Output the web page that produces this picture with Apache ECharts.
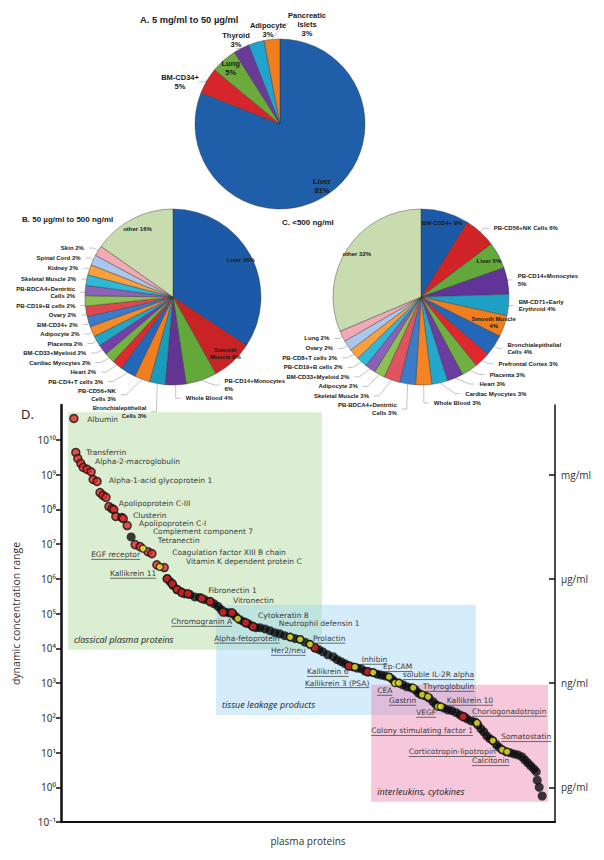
<!DOCTYPE html>
<html><head><meta charset="utf-8">
<script src="https://cdn.jsdelivr.net/npm/echarts@6/dist/echarts.min.js"></script>
<style>html,body{margin:0;padding:0;background:#fff}#c{width:604px;height:860px}</style>
</head><body><div id="c"></div>
<script>
// ---------- Panel A: 5 mg/ml to 50 µg/ml ----------
const pieANames  = ['Liver','BM-CD34+','Lung','Thyroid','Adipocyte','Pancreatic\nIslets'];
const pieAValues = [81,5,5,3,3,3];
const pieAColors = ['#1f5ea8','#d7262b','#6cab3b','#6a3a98','#21a3cf','#f07e1f'];
const pieAInside = ['Liver','Lung'];

// ---------- Panel B: 50 µg/ml to 500 ng/ml ----------
const pieBNames  = ['Liver','Smooth\nMuscle','PB-CD14+Monocytes','Whole Blood','Bronchialepithelial\nCells','PB-CD56+NK\nCells','PB-CD4+T cells','Heart','Cardiac Myocytes','BM-CD33+Myeloid','Placenta','Adipocyte','BM-CD34+','Ovary','PB-CD19+B cells','PB-BDCA4+Dentritic\nCells','Skeletal Muscle','Kidney','Spinal Cord','Skin','other'];
const pieBValues = [36,8,6,4,3,3,3,2,2,2,2,2,2,2,2,2,2,2,2,2,16];
const pieBColors = ['#1c5aa8','#c92326','#62a83a','#623493','#1b9bbb','#f07e1f','#2466b8','#dc2a2e','#74b23f','#7440a8','#22a6c8','#f58a28','#3a7cc8','#e0484f','#8cc050','#8a62b6','#30b8d8','#f6a040','#aac6ea','#f1aab3','#c8dcb0'];
const pieBInside = ['Liver','Smooth\nMuscle','other'];
const pieBValueOnNewLine = ['PB-CD14+Monocytes'];

// ---------- Panel C: <500 ng/ml ----------
const pieCNames  = ['BM-CD34+','PB-CD56+NK Cells','Liver','PB-CD14+Monocytes','BM-CD71+Early\nErythroid','Smooth Muscle','Bronchialepithelial\nCells','Prefrontal Cortex','Placenta','Heart','Cardiac Myocytes','Whole Blood','PB-BDCA4+Dentritic\nCells','Skeletal Muscle','Adipocyte','BM-CD33+Myeloid','PB-CD19+B cells','PB-CD8+T cells','Ovary','Lung','other'];
const pieCValues = [9,6,5,5,4,4,4,3,3,3,3,3,3,3,2,2,2,2,2,2,32];
const pieCColors = ['#1c5aa8','#d02428','#62a83a','#62349a','#1ea0c4','#f07e1f','#2466b8','#e0282c','#70b040','#6c3ca0','#22a8cc','#f28424','#3a7cc8','#e05460','#8cc050','#8a60b8','#30b8d8','#f8a040','#aac6ea','#f1aab3','#c8dcb0'];
const pieCInside = ['BM-CD34+','Liver','Smooth Muscle','other'];
const pieCValueOnNewLine = ['PB-CD14+Monocytes','Smooth Muscle'];

// ---------- Panel D: dynamic concentration range (pg/ml) by protein rank ----------
const blackDots = [[14.2,1.6e7],[21.5,1.0e6],[22.1,8.2e5],[22.7,6.3e5],[23.5,4.9e5],[24.3,4.2e5],[25.1,3.7e5],[26.1,3.5e5],[27.1,3.0e5],[28.1,2.9e5],[29.1,2.5e5],[30.2,2.2e5],[31.0,1.9e5],[31.8,1.6e5],[32.4,1.3e5],[33.2,1.1e5],[34.0,1.05e5],[34.8,9.9e4],[35.4,8.1e4],[36.2,6.6e4],[37.0,5.8e4],[37.9,5.1e4],[38.7,4.4e4],[39.5,3.9e4],[40.3,3.9e4],[41.3,3.6e4],[42.3,3.2e4],[43.3,2.8e4],[44.3,2.6e4],[45.3,2.3e4],[46.4,2.1e4],[47.4,1.9e4],[48.4,1.8e4],[49.4,1.5e4],[50.4,1.3e4],[51.4,1.03e4],[52.2,9.1e3],[53.0,7.9e3],[54.0,6.5e3],[55.1,5.7e3],[55.9,4.7e3],[56.7,4.1e3],[57.5,3.6e3],[58.3,3.1e3],[59.1,2.9e3],[59.9,2.7e3],[60.7,2.6e3],[61.5,2.2e3],[62.3,2.1e3],[63.2,2.0e3],[64.0,1.8e3],[64.8,1.7e3],[65.6,1.6e3],[66.4,1.5e3],[67.0,1.3e3],[67.6,1.08e3],[68.4,1.0e3],[69.2,890],[70.0,780],[70.9,730],[71.7,640],[72.3,520],[72.9,460],[73.7,430],[74.5,370],[75.3,290],[75.9,240],[76.7,210],[77.5,190],[78.3,170],[79.1,160],[80.0,140],[80.8,120],[81.6,107],[82.2,93],[83.0,81],[83.8,76],[84.4,62],[85.0,48],[85.6,39],[86.2,30],[86.8,25],[87.4,22],[88.1,17],[88.7,14],[89.3,12],[90.1,10.5],[90.9,9.8],[91.7,9.1],[92.5,8.5],[93.3,7.5],[93.9,6.1],[94.5,5.0],[95.1,4.1],[95.7,3.4],[96.2,2.8],[96.4,1.6],[96.8,1.0],[97.4,0.56]];
const redDots = [[2.6,4.1e10],[3.0,4.3e9],[3.4,2.9e9],[4.0,2.1e9],[4.5,1.6e9],[5.3,1.4e9],[6.1,1.2e9],[6.5,7.2e8],[7.3,6.3e8],[7.9,3.0e8],[8.5,2.5e8],[9.1,2.2e8],[9.7,1.2e8],[10.3,1.05e8],[10.7,9.8e7],[11.1,6.2e7],[12.3,5.8e7],[12.6,5.4e7],[13.4,3.4e7],[15.0,9.6e6],[16.0,8.4e6],[17.6,6.0e6],[18.4,5.3e6],[19.4,2.5e6],[20.9,2.1e6],[21.5,1.0e6],[22.5,7.2e5],[23.5,4.9e5],[24.5,4.0e5],[25.7,3.7e5],[28.5,2.7e5],[30.2,2.2e5],[32.8,1.1e5],[34.6,1.05e5],[37.4,5.4e4],[38.9,4.2e4],[51.4,1.03e4],[58.3,3.1e3],[62.1,2.1e3],[81.4,107]];
const yellowDots = [[16.6,7.4e6],[20.0,2.2e6],[35.8,7.1e4],[46.4,2.1e4],[48.4,1.8e4],[50.4,1.3e4],[59.5,2.9e3],[63.2,2.0e3],[66.4,1.5e3],[67.6,1.0e3],[68.4,1.0e3],[71.3,730],[73.1,460],[74.3,400],[76.3,210],[76.9,210],[84.2,71],[87.4,22],[89.3,12],[90.3,10.5]];

// protein annotations: text, anchor [rank, pg/ml], underlined
const proteinLabels = ['Albumin','Transferrin','Alpha-2-macroglobulin','Alpha-1-acid glycoprotein 1','Apolipoprotein C-III','Clusterin','Apolipoprotein C-I','Complement component 7','Tetranectin','Coagulation factor XIII B chain','Vitamin K dependent protein C','EGF receptor','Kallikrein 11','Fibronectin 1','Vitronectin','Chromogranin A','Cytokeratin 8','Neutrophil defensin 1','Alpha-fetoprotein','Prolactin','Her2/neu','Inhibin','Kallikrein 6','Kallikrein 3 (PSA)','Ep-CAM','soluble IL-2R alpha','Thyroglobulin','CEA','Gastrin','Kallikrein 10','VEGF','Choriogonadotropin','Colony stimulating factor 1','Somatostatin','Corticotropin-lipotropin','Calcitonin'];
const proteinAnchors = [[5.3,3.8e10],[5.1,4.3e9],[6.9,2.4e9],[9.7,6.7e8],[11.7,1.5e8],[14.6,6.8e7],[15.8,4.0e7],[18.6,2.3e7],[19.6,1.3e7],[22.5,5.6e6],[25.3,3.1e6],[6.1,4.9e6],[9.9,1.4e6],[29.8,4.6e5],[34.8,2.4e5],[22.3,5.8e4],[39.9,8.5e4],[44.1,5.2e4],[31.0,1.9e4],[51.0,1.9e4],[42.5,8.5e3],[60.9,4.7e3],[49.8,2.1e3],[49.4,1.0e3],[65.2,2.9e3],[69.2,1.7e3],[73.3,780],[64.0,600],[66.4,310],[78.1,310],[71.9,140],[83.2,150],[62.8,42],[89.1,28],[70.4,10.4],[83.2,5.7]];
const proteinUnderlined = [0,0,0,0,0,0,0,0,0,0,0,1,1,0,0,1,0,0,1,1,1,1,1,1,1,1,1,1,1,1,1,1,1,1,1,1];

// shaded groups: [rank from, rank to], [pg/ml low, pg/ml high]
const groupNames  = ['classical plasma proteins','tissue leakage products','interleukins, cytokines'];
const groupRanks  = [[1.4,52.8],[31.4,84.0],[62.8,98.6]];
const groupConcs  = [[9.1e3,6.2e10],[1.2e2,1.8e5],[0.38,8.9e2]];
const groupColors = ['rgba(175,218,152,0.45)','rgba(150,210,245,0.40)','rgba(236,125,172,0.42)'];

const yTickValues = [0.1,1,10,100,1e3,1e4,1e5,1e6,1e7,1e8,1e9,1e10];
const unitTickValues = [1,1e3,1e6,1e9];
const unitTickLabels = ['pg/ml','ng/ml','µg/ml','mg/ml'];

// ---------- layout helpers (label placement only) ----------
const pieALabelCenters = {'BM-CD34+':[180,82], 'Thyroid':[236,40], 'Adipocyte':[268,30], 'Pancreatic\nIslets':[307,24]};

const SUP = {'-':'⁻','0':'⁰','1':'¹','2':'²','3':'³','4':'⁴','5':'⁵','6':'⁶','7':'⁷','8':'⁸','9':'⁹'};
function powLabel(v){ const e = Math.round(Math.log10(v)); return '10' + String(e).split('').map(c=>SUP[c]).join(''); }

const LABEL_FONT_SIZE = 7.5, LABEL_FAMILY = 'DejaVu Sans';
const mctx = document.createElement('canvas').getContext('2d');
mctx.font = LABEL_FONT_SIZE + 'px "' + LABEL_FAMILY + '"';
function textW(t){ return mctx.measureText(t).width; }

function pieSeries(names, values, colors, insideList, newLineList, center, radius, fs, sepDefault, fixedCenters){
  return {
    type:'pie', center:center, radius:radius, startAngle:90, clockwise:true,
    avoidLabelOverlap:true, silent:true, animation:false,
    itemStyle:{borderColor:'rgba(50,50,50,0.7)', borderWidth:0.6},
    label:{fontFamily:'Liberation Sans', fontWeight:'bold', fontSize:fs, lineHeight:fs+1.5, color:'#1a1a1a',
      formatter:function(p){ const sep = newLineList.indexOf(p.name)>=0 ? '\n' : sepDefault; return p.name + sep + p.value + '%'; }},
    labelLine:{length:5, length2:5, lineStyle:{color:'#9a9a9a', width:0.6}},
    labelLayout:function(params){
      const n = names[params.dataIndex];
      if (fixedCenters && fixedCenters[n]) {
        return {x:fixedCenters[n][0], y:fixedCenters[n][1], align:'center', verticalAlign:'middle'};
      }
      if (insideList.indexOf(n)<0) return {};
      const r = params.labelRect; const cx = r.x + r.width/2, cy = r.y + r.height/2;
      return {dx:(cx-center[0])*0.64, dy:(cy-center[1])*0.64};
    },
    data: names.map(function(n,i){
      const inside = insideList.indexOf(n)>=0;
      const d = {name:n, value:values[i], itemStyle:{color:colors[i]}};
      if (inside) { d.label = {position:'inside'}; d.labelLine = {show:false}; }
      return d;
    })
  };
}

const chart = echarts.init(document.getElementById('c'), null, {renderer:'svg', width:604, height:860});
const option = {
  animation:false,
  backgroundColor:'#ffffff',
  title:[
    {text:'A. 5 mg/ml to 50 µg/ml', left:140, top:15, padding:0, textStyle:{fontFamily:'Liberation Sans', fontWeight:'bold', fontSize:9.3, color:'#222'}},
    {text:'B. 50 µg/ml to 500 ng/ml', left:22, top:215, padding:0, textStyle:{fontFamily:'Liberation Sans', fontWeight:'bold', fontSize:8, color:'#222'}},
    {text:'C. <500 ng/ml', left:282, top:218, padding:0, textStyle:{fontFamily:'Liberation Sans', fontWeight:'bold', fontSize:8, color:'#222'}},
    {text:'D.', left:21, top:407, padding:0, textStyle:{fontFamily:'Open Sans', fontWeight:'normal', fontSize:13, color:'#222'}}
  ],
  grid:{left:61, right:49, top:405, bottom:38},
  xAxis:{type:'value', min:0, max:100, name:'plasma proteins', nameLocation:'middle', nameGap:14,
    nameTextStyle:{fontFamily:'Open Sans', fontSize:10, color:'#333'},
    axisLine:{lineStyle:{color:'#111', width:2}}, axisTick:{show:false}, axisLabel:{show:false}, splitLine:{show:false}},
  yAxis:[
    {type:'log', logBase:10, min:0.1, max:1e11, position:'left',
      name:'dynamic concentration range', nameLocation:'middle', nameGap:40, nameRotate:90,
      nameTextStyle:{fontFamily:'Open Sans', fontSize:10.5, color:'#333'},
      axisLine:{show:true, lineStyle:{color:'#111', width:2.5}},
      axisTick:{show:true, inside:false, length:5, lineStyle:{color:'#111', width:1.5}, customValues:yTickValues},
      axisLabel:{fontFamily:'Noto Sans', fontSize:10, color:'#333', margin:5, customValues:yTickValues, formatter:powLabel},
      splitLine:{show:false}},
    {type:'log', logBase:10, min:0.1, max:1e11, position:'right',
      axisLine:{show:true, lineStyle:{color:'#111', width:1.5}},
      axisTick:{show:true, inside:true, length:6, lineStyle:{color:'#111', width:1.5}, customValues:unitTickValues},
      axisLabel:{fontFamily:'Open Sans', fontSize:10, color:'#333', margin:6, customValues:unitTickValues,
        formatter:function(v){ const i = unitTickValues.findIndex(u=>Math.abs(Math.log10(u)-Math.log10(v))<1e-6); return i>=0?unitTickLabels[i]:''; }},
      splitLine:{show:false}}
  ],
  series:[
    pieSeries(pieANames, pieAValues, pieAColors, pieAInside, [], [280,124], 85, 7.5, '\n', pieALabelCenters),
    pieSeries(pieBNames, pieBValues, pieBColors, pieBInside, pieBValueOnNewLine, [173,297], 88, 6, ' ', null),
    pieSeries(pieCNames, pieCValues, pieCColors, pieCInside, pieCValueOnNewLine, [421,297], 88, 6, ' ', null),
    {type:'scatter', xAxisIndex:0, yAxisIndex:0, data:[], z:1, silent:true,
      markArea:{silent:true, data: groupNames.map(function(n,i){
        return [{xAxis:groupRanks[i][0], yAxis:groupConcs[i][1], name:n,
                 itemStyle:{color:groupColors[i]},
                 label:{show:true, position:'insideBottomLeft', distance:6, formatter:n, fontFamily:'Open Sans', fontStyle:'italic', fontSize:9, color:'#222'}},
                {xAxis:groupRanks[i][1], yAxis:groupConcs[i][0]}];
      })}},
    {type:'scatter', name:'proteins', xAxisIndex:0, yAxisIndex:0, z:3, silent:true, symbolSize:9,
      itemStyle:{color:'#0d0d0d'}, data:blackDots},
    {type:'scatter', name:'red', xAxisIndex:0, yAxisIndex:0, z:4, silent:true, symbolSize:8,
      itemStyle:{color:'#e52428', borderColor:'#111', borderWidth:1.5}, data:redDots},
    {type:'scatter', name:'yellow', xAxisIndex:0, yAxisIndex:0, z:5, silent:true, symbolSize:7,
      itemStyle:{color:'#f2ec2a', borderColor:'#111', borderWidth:1.3}, data:yellowDots},
    {type:'custom', xAxisIndex:0, yAxisIndex:0, z:6, silent:true, clip:false,
      encode:{x:0, y:1},
      data: proteinAnchors.map(function(a,i){ return [a[0], a[1], i]; }),
      renderItem:function(params, api){
        const i = api.value(2);
        const p = api.coord([api.value(0), api.value(1)]);
        const t = proteinLabels[i];
        const kids = [{type:'text', x:p[0], y:p[1], style:{text:t, fontFamily:LABEL_FAMILY, fontSize:LABEL_FONT_SIZE, fill:'#3a3a3a', align:'left', verticalAlign:'middle'}}];
        if (proteinUnderlined[i]) {
          const w = textW(t);
          kids.push({type:'line', shape:{x1:p[0], y1:p[1]+4.6, x2:p[0]+w, y2:p[1]+4.6}, style:{stroke:'#4a4a4a', lineWidth:0.8}});
        }
        return {type:'group', children:kids};
      }}
  ]
};
chart.setOption(option);
</script>
</body></html>
